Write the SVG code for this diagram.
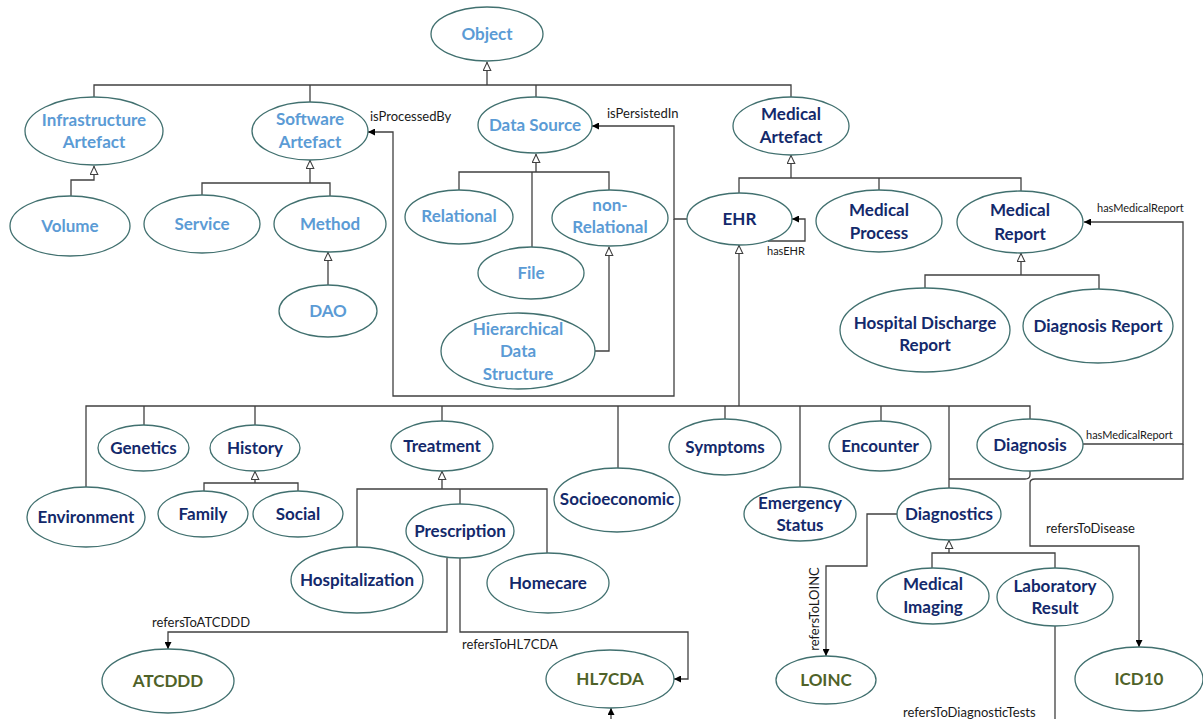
<svg xmlns="http://www.w3.org/2000/svg" width="1203" height="719" viewBox="0 0 1203 719">
<style>
  .n ellipse { fill: #ffffff; stroke: #41706f; stroke-width: 1.3; }
  .n text { font-family: Lato, "Liberation Sans", sans-serif; font-weight: bold; font-size: 17px; text-anchor: middle; }
  .sw text { fill: #5b9bd5; }
  .md text { fill: #13296b; }
  .std text { fill: #4f6228; }
  .c path { fill: none; stroke: #404040; stroke-width: 1.3; }
  .lbl { font-family: Lato, "Liberation Sans", sans-serif; font-size: 13px; fill: #1a1a1a; }
  .lbs { font-family: Lato, "Liberation Sans", sans-serif; font-size: 11px; fill: #1a1a1a; }
</style>
<defs>
  <marker id="gen" viewBox="0 0 10 10" refX="10" refY="5" markerWidth="11" markerHeight="9" markerUnits="userSpaceOnUse" orient="auto">
    <path d="M0.5,0.8 L9.5,5 L0.5,9.2 Z" fill="#ffffff" stroke="#404040" stroke-width="1.2"/>
  </marker>
  <marker id="arr" viewBox="0 0 10 10" refX="10" refY="5" markerWidth="8" markerHeight="7" markerUnits="userSpaceOnUse" orient="auto">
    <path d="M0,0 L10,5 L0,10 Z" fill="#000000"/>
  </marker>
</defs>
<rect width="1203" height="719" fill="#ffffff"/>

<!-- connectors -->
<g class="c" id="connectors">
  <!-- Object hierarchy -->
  <path d="M94,97 V85 H791 V97"/>
  <path d="M310,85 V102"/>
  <path d="M536,85 V97"/>
  <path d="M487,85 V62" marker-end="url(#gen)"/>
  <path d="M71,196 V180 H94 V166" marker-end="url(#gen)"/>
  <!-- Software artefact -->
  <path d="M202,196 V183 H330 V196"/>
  <path d="M310,183 V160" marker-end="url(#gen)"/>
  <path d="M328,285 V252" marker-end="url(#gen)"/>
  <!-- Data source -->
  <path d="M459,190 V172 H609 V190"/>
  <path d="M532,248 V172"/>
  <path d="M536,172 V154" marker-end="url(#gen)"/>
  <path d="M595,351 H609 V247" marker-end="url(#gen)"/>
  <!-- EHR persistence / processing -->
  <path d="M687,219 H674 V126 H592" marker-end="url(#arr)"/>
  <path d="M674,219 V396 H393 V132 H368" marker-end="url(#arr)"/>
  <!-- Medical artefact -->
  <path d="M739,193 V178 H1021 V191"/>
  <path d="M879,178 V191"/>
  <path d="M791,178 V155" marker-end="url(#gen)"/>
  <path d="M768,241 H805 V219 H792" marker-end="url(#arr)"/>
  <!-- Medical report -->
  <path d="M925,288 V275 H1099 V289"/>
  <path d="M1021,275 V253" marker-end="url(#gen)"/>
  <path d="M1083,444 H1183 V222 H1084" marker-end="url(#arr)"/>
  <path d="M949,479 H1025 M1035,479 H1183 V444"/>
  <!-- EHR parts -->
  <path d="M86,487 V406 H1030 V419"/>
  <path d="M144,406 V426"/>
  <path d="M255,406 V426"/>
  <path d="M442,406 V421"/>
  <path d="M618,406 V468"/>
  <path d="M725,406 V419"/>
  <path d="M800,406 V487"/>
  <path d="M881,406 V421"/>
  <path d="M949,406 V488"/>
  <path d="M739,406 V245" marker-end="url(#gen)"/>
  <!-- History -->
  <path d="M204,492 V483 H298 V492"/>
  <path d="M255,483 V471" marker-end="url(#gen)"/>
  <!-- Treatment -->
  <path d="M357,547 V489 H547 V553"/>
  <path d="M460,489 V504"/>
  <path d="M442,489 V471" marker-end="url(#gen)"/>
  <path d="M447,558 V632 H168 V649" marker-end="url(#arr)"/>
  <path d="M460,558 V632 H688 V679 H674" marker-end="url(#arr)"/>
  <!-- Diagnostics -->
  <path d="M932,568 V553 H1055 V568"/>
  <path d="M949,553 V540" marker-end="url(#gen)"/>
  <path d="M897,514 H867 V566 H826 V656" marker-end="url(#arr)"/>
  <path d="M1030,471 V475 Q1030,479 1025,479 M1035,479 Q1030,479 1030,483 V546 H1139 V647" marker-end="url(#arr)"/>
  <path d="M1055,626 V719"/>
  <path d="M611,719 V708" marker-end="url(#arr)"/>
</g>

<!-- connector labels -->
<g id="labels">
  <text class="lbl" x="370" y="121">isProcessedBy</text>
  <text class="lbl" x="607" y="118">isPersistedIn</text>
  <text class="lbs" x="767" y="255">hasEHR</text>
  <text class="lbs" x="1097" y="212">hasMedicalReport</text>
  <text class="lbs" x="1086" y="439">hasMedicalReport</text>
  <text class="lbl" x="1046" y="533">refersToDisease</text>
  <text class="lbl" x="152" y="627">refersToATCDDD</text>
  <text class="lbl" x="462" y="649">refersToHL7CDA</text>
  <text class="lbl" x="903" y="717">refersToDiagnosticTests</text>
  <text class="lbl" text-anchor="middle" transform="translate(819,609) rotate(-90)">refersToLOINC</text>
</g>

<!-- nodes: software / data side -->
<g id="object" class="n sw"><ellipse cx="487" cy="34" rx="56" ry="27"/><text x="487" y="40">Object</text></g>
<g id="infrastructure-artefact" class="n sw"><ellipse cx="94" cy="131" rx="69" ry="34"/><text x="94" y="126">Infrastructure</text><text x="94" y="148">Artefact</text></g>
<g id="software-artefact" class="n sw"><ellipse cx="310" cy="131" rx="58" ry="29"/><text x="310" y="125">Software</text><text x="310" y="148">Artefact</text></g>
<g id="data-source" class="n sw"><ellipse cx="535" cy="125" rx="57" ry="28"/><text x="535" y="131">Data Source</text></g>
<g id="volume" class="n sw"><ellipse cx="70" cy="226" rx="60" ry="30"/><text x="70" y="232">Volume</text></g>
<g id="service" class="n sw"><ellipse cx="202" cy="224" rx="58" ry="29"/><text x="202" y="230">Service</text></g>
<g id="method" class="n sw"><ellipse cx="330" cy="224" rx="56" ry="28"/><text x="330" y="230">Method</text></g>
<g id="dao" class="n sw"><ellipse cx="328" cy="311" rx="49" ry="26"/><text x="328" y="317">DAO</text></g>
<g id="relational" class="n sw"><ellipse cx="459" cy="217" rx="54" ry="27"/><text x="459" y="222">Relational</text></g>
<g id="non-relational" class="n sw"><ellipse cx="610" cy="218" rx="58" ry="28"/><text x="610" y="211">non-</text><text x="610" y="233">Relational</text></g>
<g id="file" class="n sw"><ellipse cx="531" cy="273" rx="53" ry="26"/><text x="531" y="279">File</text></g>
<g id="hierarchical-data-structure" class="n sw"><ellipse cx="518" cy="351" rx="77" ry="38"/><text x="518" y="335">Hierarchical</text><text x="518" y="357">Data</text><text x="518" y="380">Structure</text></g>

<!-- nodes: medical side -->
<g id="medical-artefact" class="n md"><ellipse cx="791" cy="126" rx="58" ry="29"/><text x="791" y="120">Medical</text><text x="791" y="143">Artefact</text></g>
<g id="ehr" class="n md"><ellipse cx="739.5" cy="219" rx="52.5" ry="26"/><text x="739.5" y="225">EHR</text></g>
<g id="medical-process" class="n md"><ellipse cx="879" cy="221" rx="63" ry="31"/><text x="879" y="216">Medical</text><text x="879" y="239">Process</text></g>
<g id="medical-report" class="n md"><ellipse cx="1020" cy="222" rx="63" ry="31"/><text x="1020" y="216">Medical</text><text x="1020" y="240">Report</text></g>
<g id="hospital-discharge-report" class="n md"><ellipse cx="925" cy="330" rx="85" ry="42"/><text x="925" y="329">Hospital Discharge</text><text x="925" y="351">Report</text></g>
<g id="diagnosis-report" class="n md"><ellipse cx="1098" cy="326" rx="75" ry="37"/><text x="1098" y="332">Diagnosis Report</text></g>
<g id="genetics" class="n md"><ellipse cx="143.5" cy="448" rx="45.5" ry="23"/><text x="143.5" y="454">Genetics</text></g>
<g id="history" class="n md"><ellipse cx="255" cy="448" rx="45" ry="23"/><text x="255" y="454">History</text></g>
<g id="environment" class="n md"><ellipse cx="86" cy="517" rx="59" ry="30"/><text x="86" y="523">Environment</text></g>
<g id="family" class="n md"><ellipse cx="203" cy="514" rx="45" ry="23"/><text x="203" y="520">Family</text></g>
<g id="social" class="n md"><ellipse cx="298" cy="514" rx="45" ry="23"/><text x="298" y="520">Social</text></g>
<g id="treatment" class="n md"><ellipse cx="442" cy="446" rx="51" ry="25"/><text x="442" y="452">Treatment</text></g>
<g id="socioeconomic" class="n md"><ellipse cx="617" cy="500" rx="63" ry="32"/><text x="617" y="505">Socioeconomic</text></g>
<g id="symptoms" class="n md"><ellipse cx="725" cy="447" rx="56" ry="28"/><text x="725" y="453">Symptoms</text></g>
<g id="emergency-status" class="n md"><ellipse cx="800" cy="514" rx="56" ry="27"/><text x="800" y="509">Emergency</text><text x="800" y="531">Status</text></g>
<g id="encounter" class="n md"><ellipse cx="880" cy="446" rx="51" ry="25"/><text x="880" y="452">Encounter</text></g>
<g id="diagnosis" class="n md"><ellipse cx="1030" cy="445" rx="53" ry="26"/><text x="1030" y="451">Diagnosis</text></g>
<g id="diagnostics" class="n md"><ellipse cx="949" cy="514" rx="52" ry="26"/><text x="949" y="520">Diagnostics</text></g>
<g id="hospitalization" class="n md"><ellipse cx="357" cy="580" rx="66" ry="33"/><text x="357" y="586">Hospitalization</text></g>
<g id="prescription" class="n md"><ellipse cx="460" cy="531" rx="54" ry="27"/><text x="460" y="537">Prescription</text></g>
<g id="homecare" class="n md"><ellipse cx="548" cy="583" rx="61" ry="30"/><text x="548" y="589">Homecare</text></g>
<g id="medical-imaging" class="n md"><ellipse cx="933" cy="596" rx="56" ry="28"/><text x="933" y="590">Medical</text><text x="933" y="613">Imaging</text></g>
<g id="laboratory-result" class="n md"><ellipse cx="1055" cy="597" rx="58" ry="29"/><text x="1055" y="592">Laboratory</text><text x="1055" y="614">Result</text></g>

<!-- nodes: standards -->
<g id="atcddd" class="n std"><ellipse cx="168" cy="681" rx="66" ry="32"/><text x="168" y="687">ATCDDD</text></g>
<g id="hl7cda" class="n std"><ellipse cx="610" cy="679" rx="64" ry="29"/><text x="610" y="685">HL7CDA</text></g>
<g id="loinc" class="n std"><ellipse cx="826" cy="680" rx="50" ry="24"/><text x="826" y="686">LOINC</text></g>
<g id="icd10" class="n std"><ellipse cx="1139" cy="679" rx="64" ry="32"/><text x="1139" y="685">ICD10</text></g>
</svg>
